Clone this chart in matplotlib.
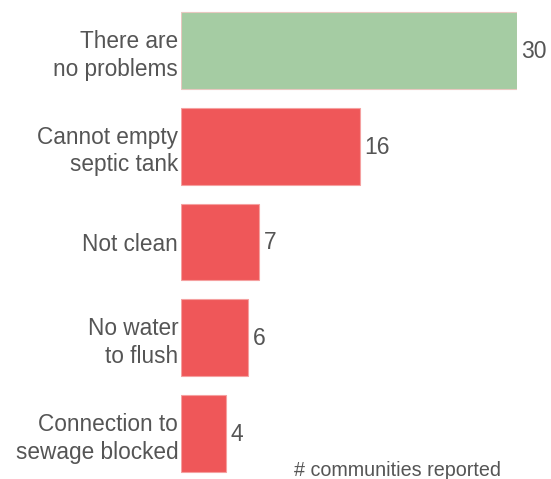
import matplotlib
matplotlib.use("Agg")
import matplotlib.pyplot as plt

# data
categories = ["There are\nno problems", "Cannot empty\nseptic tank", "Not clean",
              "No water\nto flush", "Connection to\nsewage blocked"]
counts = [30, 16, 7, 6, 4]
colors = ["#a5cca3", "#ef5759", "#ef5759", "#ef5759", "#ef5759"]
edges = ["#e8c8c0", "#f5a0a0", "#f5a0a0", "#f5a0a0", "#f5a0a0"]

plt.rcParams['font.family'] = ['Liberation Sans', 'DejaVu Sans']
txt = "#555555"

fig = plt.figure(figsize=(5.51, 4.79), dpi=100)
ax = fig.add_axes([181 / 551, 0, (517 - 181) / 551, 1])

y = list(range(len(categories)))
ax.barh(y, counts, height=0.8, color=colors, edgecolor=edges, linewidth=0.8)

for yi, v in zip(y, counts):
    ax.text(v + 0.4, yi + 0.01, str(v), va='center', ha='left', fontsize=16.5, color=txt)

ax.set_xlim(0, 30)
ax.set_ylim(4.475, -0.527)
ax.set_yticks(y)
ax.set_yticklabels(categories, fontsize=16.3, color=txt, linespacing=1.26)
ax.tick_params(axis='y', length=0, pad=2)
ax.set_xticks([])
for s in ax.spines.values():
    s.set_visible(False)

fig.text(397 / 551, 1 - 470 / 479, "# communities reported", ha='center', va='center',
         fontsize=14.2, color=txt)

fig.savefig("out.png", dpi=100)
